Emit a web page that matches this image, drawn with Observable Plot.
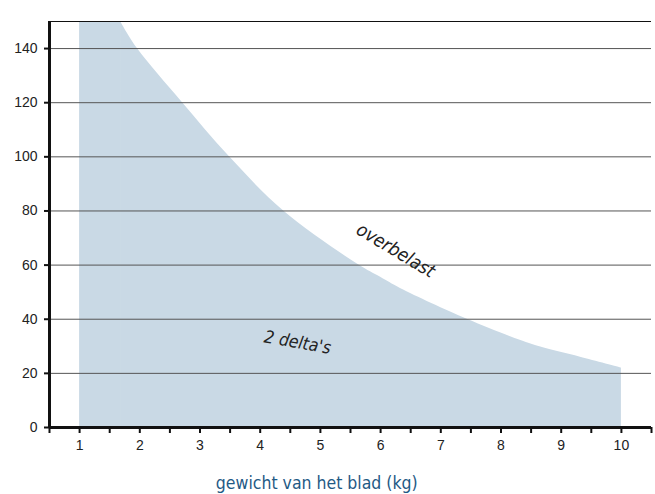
<!DOCTYPE html>
<html>
<head>
<meta charset="utf-8">
<script src="https://cdn.jsdelivr.net/npm/d3@7"></script>
<script src="https://cdn.jsdelivr.net/npm/@observablehq/plot@0.6"></script>
<style>
  html, body { margin: 0; padding: 0; background: #fff; }
  #chart svg { display: block; }
</style>
</head>
<body>
<div id="chart"></div>
<script>
// Boundary curve: blade weight (kg) vs value
const weights = [1, 1.68, 1.96, 2.71, 3.49, 4.39, 5.64, 6.0, 6.33, 7.44, 8.33, 8.66, 9.32, 10];
const limits  = [150, 150, 140, 120, 100, 80, 60, 55.5, 51.4, 40, 32.1, 29.7, 26, 22];
const yTicks = [0, 20, 40, 60, 80, 100, 120, 140];
const yGrid = [20, 40, 60, 80, 100, 120, 140];
const xMinorTicks = [0.5, 1, 1.5, 2, 2.5, 3, 3.5, 4, 4.5, 5, 5.5, 6, 6.5, 7, 7.5, 8, 8.5, 9, 9.5, 10, 10.5];
const xTicks = [1, 2, 3, 4, 5, 6, 7, 8, 9, 10];
const xLabel = "gewicht van het blad (kg)";
const annotations = [
  {text: "overbelast", x: 6.25, y: 65.4, rotate: 31, size: 18.5},
  {text: "2 delta's", x: 4.62, y: 31.4, rotate: 10, size: 17.5}
];

const data = weights.map((w, i) => ({x: w, y: limits[i]}));
const plateau = data.slice(0, 2);   // clipped part at the top of the frame
const slope = data.slice(1);        // smooth descending boundary

const chart = Plot.plot({
  width: 655,
  height: 494,
  marginTop: 21,
  marginBottom: 67,
  marginLeft: 49,
  marginRight: 4,
  style: {fontFamily: "'Liberation Sans', Arial, sans-serif", fontSize: "14px", color: "#222", background: "#fff"},
  x: {domain: [0.5, 10.5]},
  y: {domain: [0, 150]},
  marks: [
    Plot.areaY(plateau, {x: "x", y: "y", fill: "#c9d9e5"}),
    Plot.areaY(slope, {x: "x", y: "y", fill: "#c9d9e5", curve: "catmull-rom", clip: true}),
    Plot.ruleY(yGrid, {stroke: "#555", strokeWidth: 1}),
    Plot.ruleY([150], {stroke: "#111", strokeWidth: 1.2}),
    Plot.axisY({ticks: yTicks, tickSize: 5, tickPadding: 7, tickFormat: d => d, label: null, strokeWidth: 2, stroke: "#111", fill: "#222", fontSize: 14}),
    Plot.axisX({ticks: xMinorTicks, tickSize: 6, tickFormat: () => "", label: null, strokeWidth: 2, stroke: "#111"}),
    Plot.axisX({ticks: xTicks, tickSize: 0, tickPadding: 13, tickFormat: d => d, label: null, fill: "#222", fontSize: 14}),
    Plot.ruleX([0.5], {stroke: "#111", strokeWidth: 3}),
    Plot.ruleY([0], {stroke: "#111", strokeWidth: 3}),
    Plot.text(annotations, {x: "x", y: "y", text: "text", rotate: "rotate", fontSize: "size",
      fontStyle: "italic", fontFamily: "'DejaVu Sans Condensed', 'DejaVu Sans', sans-serif", fill: "#222"}),
    Plot.text([xLabel], {x: 4.94, y: 0, dy: 56, text: d => d, fontSize: 17.5,
      fontFamily: "'DejaVu Sans Condensed', 'DejaVu Sans', sans-serif", fill: "#1f5a85"})
  ]
});
document.getElementById("chart").appendChild(chart);
</script>
</body>
</html>
